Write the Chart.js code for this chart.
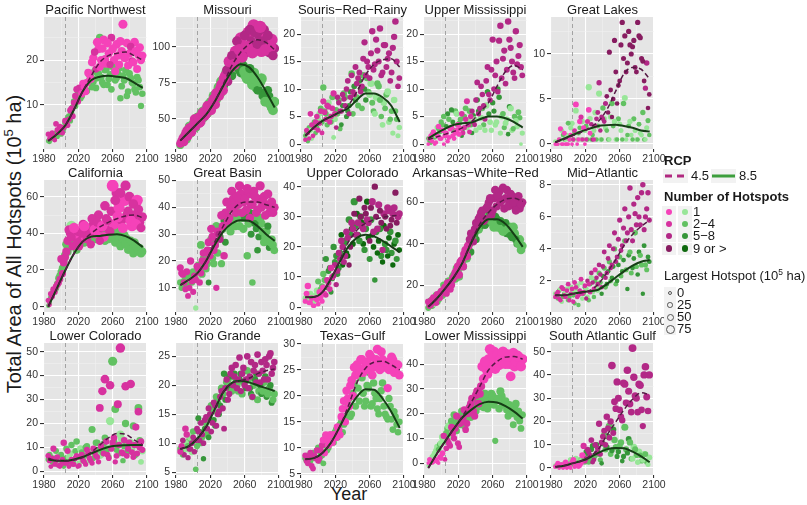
<!DOCTYPE html>
<html>
<head>
<meta charset="utf-8">
<title>Hotspots by region</title>
<script src="https://cdn.jsdelivr.net/npm/chart.js@4.4.1/dist/chart.umd.min.js"></script>
<style>
  body { margin: 0; background: #fff; font-family: "Liberation Sans", Arial, sans-serif; color: #1a1a1a; }
  #wrap { position: relative; width: 807px; height: 505px; overflow: hidden; }
  #wrap canvas { position: absolute; }
  .ttl { position: absolute; width: 163px; text-align: center; font-size: 13px; line-height: 15px; white-space: nowrap; z-index: 2; }
  .lg { position: absolute; font-size: 13px; line-height: 16px; white-space: nowrap; }
  .b { font-weight: bold; }
  .dot { position: absolute; border-radius: 50%; }
  .key { position: absolute; background: #f2f2f2; }
  sup { font-size: 65%; line-height: 0; vertical-align: super; }
</style>
</head>
<body>
<div id="wrap">
  <div style="position:absolute; left:14px; top:244px; transform:translate(-50%,-50%) rotate(-90deg); font-size:20px; white-space:nowrap;">Total Area of All Hotspots (10<sup>5</sup> ha)</div>
  <div style="position:absolute; left:349px; top:494px; transform:translate(-50%,-50%); font-size:18px;">Year</div>
</div>
<script>
// x values: two interleaved sets of years, and the x grid
const HIST_END = 2005;
const YEARS = [1985, 1988, 1991, 1994, 1997, 2000, 2003, 2006, 2009, 2012,
  2015, 2018, 2021, 2024, 2027, 2030, 2033, 2036, 2039, 2042,
  2045, 2048, 2051, 2054, 2057, 2060, 2063, 2066, 2069, 2072,
  2075, 2078, 2081, 2084, 2087, 2090, 2093];
const YEARS_B = [1986.5, 1989.5, 1992.5, 1995.5, 1998.5, 2001.5, 2004.5, 2007.5, 2010.5, 2013.5,
  2016.5, 2019.5, 2022.5, 2025.5, 2028.5, 2031.5, 2034.5, 2037.5, 2040.5, 2043.5,
  2046.5, 2049.5, 2052.5, 2055.5, 2058.5, 2061.5, 2064.5, 2067.5, 2070.5, 2073.5,
  2076.5, 2079.5, 2082.5, 2085.5, 2088.5, 2091.5, 2094.5];
const FIT_YEARS = [1985, 1995, 2005, 2015, 2025, 2035, 2045, 2055, 2065, 2075, 2085, 2095];
const X_TICKS = [1980, 2020, 2060, 2100];
const X_MINOR = [2000, 2040, 2080];
const COUNT_LABELS = ['1', '2−4', '5−8', '9 or >'];
const SIZE_LABELS = ['0', '25', '50', '75'];

const PINK = ['#f542b9', '#d7329f', '#b22886', '#871c60'];
const GREEN = ['#98e698', '#62c162', '#36963a', '#0e690e'];

// category strings: number-of-hotspots class (1..4) per point, spaces ignored
// Pacific Northwest
const pnw45 = [3.5, 2.8, 3.2, 5.8, 3.9, 4.5, 5.0, 6.2, 6.8, 9.2,
  10.5, 13.5, 13.8, 12.5, 14.1, 15.0, 16.8, 19.5, 21.8, 24.0,
  18.5, 22.6, 20.2, 23.8, 19.0, 22.5, 17.5, 21.0, 24.2, 28.0,
  20.5, 18.8, 23.0, 19.5, 22.0, 21.2, 20.0];
const pnw45b = [2.5, 3.8, 2.2, 4.5, 5.2, 3.8, 6.5, 5.5, 8.8, 7.5,
  12.0, 10.8, 13.2, 14.8, 13.0, 17.2, 15.8, 20.5, 18.0, 22.5,
  20.0, 24.5, 19.2, 21.5, 25.0, 20.0, 23.5, 19.0, 22.0, 20.5,
  23.8, 21.5, 19.8, 24.0, 18.0, 22.8, 21.0];
const pnw85 = [2.0, 3.0, 2.5, 3.8, 4.2, 3.5, 4.8, 5.5, 7.5, 8.0,
  10.8, 11.5, 13.0, 12.0, 14.5, 13.2, 15.5, 14.0, 17.5, 16.0,
  25.0, 15.0, 17.8, 14.5, 16.8, 18.5, 15.5, 17.0, 11.5, 16.5,
  17.8, 13.0, 16.0, 14.8, 12.8, 15.5, 9.8];
const pnw85b = [1.8, 2.5, 3.5, 3.0, 5.0, 4.2, 6.0, 7.0, 6.5, 9.5,
  9.8, 12.5, 11.5, 14.0, 13.0, 15.0, 16.8, 15.2, 13.8, 17.0,
  16.2, 14.5, 18.0, 15.8, 13.5, 17.2, 16.0, 18.2, 14.2, 15.5,
  12.0, 17.0, 15.0, 13.5, 16.2, 14.0, 12.5];
const pnwCat45 = '2222222222 2221111121 1111211111 1121111';
const pnwCat85 = '2222222222 2222222222 2222222222 2222222';
const pnwFit45 = [2, 3.5, 5.5, 9, 13, 16.5, 19.5, 21, 21.5, 21.8, 21, 20];
const pnwFit85 = [2, 3.5, 5.5, 9, 13, 15.5, 16.3, 16.5, 16.3, 16, 15, 13.8];
const pnwTicks = [10, 20];

// Missouri
const mo45 = [33, 37, 40, 38, 44, 46, 45, 51, 48, 55,
  53, 58, 56, 64, 68, 66, 74, 78, 84, 90,
  94, 88, 104, 98, 93, 108, 100, 112, 96, 110,
  102, 114, 104, 98, 108, 100, 94];
const mo45b = [35, 34, 42, 44, 41, 50, 48, 47, 54, 52,
  59, 57, 62, 60, 66, 71, 70, 80, 76, 86,
  92, 97, 95, 106, 100, 96, 110, 104, 115, 100,
  108, 97, 112, 106, 96, 105, 99];
const mo85 = [32, 36, 39, 42, 40, 47, 44, 50, 53, 51,
  57, 60, 62, 66, 64, 72, 76, 74, 82, 85,
  80, 90, 86, 84, 92, 83, 78, 85, 74, 78,
  70, 76, 66, 62, 70, 60, 56];
const mo85b = [34, 38, 36, 45, 43, 46, 51, 48, 55, 56,
  54, 61, 59, 64, 69, 68, 73, 79, 80, 88,
  84, 86, 93, 82, 87, 80, 84, 76, 82, 72,
  70, 78, 68, 64, 66, 58, 62];
const moCat45 = '2222222222 2222222232 3232232323 3232323';
const moCat85 = '2222222222 2222222322 3233322322 3232322';
const moFit45 = [35, 41, 47, 53, 62, 74, 87, 96, 102, 105, 103, 98];
const moFit85 = [35, 41, 47, 53, 62, 73, 83, 88, 86, 79, 69, 58];
const moTicks = [50, 75, 100];

// Souris-Red-Rainy
const sr45 = [0.8, 2.0, 5.5, 1.5, 4.0, 2.5, 6.0, 7.8, 4.5, 6.8,
  5.0, 9.2, 3.0, 7.5, 6.0, 8.2, 10.0, 5.5, 12.5, 9.0,
  11.0, 13.0, 10.5, 18.5, 15.0, 12.0, 20.5, 14.5, 17.0, 21.0,
  13.0, 18.0, 15.5, 11.5, 17.5, 22.3, 10.5];
const sr45b = [2.5, 1.0, 3.5, 3.0, 5.0, 3.8, 2.0, 5.8, 7.0, 4.0,
  6.5, 5.5, 8.5, 6.0, 9.0, 7.0, 11.5, 8.5, 9.5, 14.0,
  12.0, 9.5, 15.5, 12.5, 14.0, 16.5, 13.5, 19.0, 15.0, 12.5,
  18.0, 14.0, 16.5, 13.0, 19.5, 15.0, 12.0];
const sr85 = [1.5, 0.5, 2.5, 3.5, 2.0, 4.5, 6.5, 10.3, 5.5, 7.5,
  4.0, 1.2, 6.2, 8.0, 3.5, 9.2, 5.0, 7.0, 12.8, 10.5,
  8.5, 11.5, 6.5, 10.0, 12.0, 9.0, 7.5, 5.5, 11.0, 8.0,
  3.5, 6.5, 9.5, 4.5, 2.0, 6.0, 1.5];
const sr85b = [2.0, 3.0, 1.0, 4.0, 3.0, 5.5, 4.0, 6.0, 3.5, 5.0,
  8.5, 4.5, 5.5, 2.8, 7.0, 8.5, 6.0, 9.5, 5.5, 8.0,
  7.0, 10.0, 12.5, 8.0, 9.5, 11.0, 6.0, 8.5, 10.5, 5.0,
  7.5, 9.0, 4.0, 6.0, 8.0, 4.5, 3.0];
const srCat45 = '2222222222 2233333333 3333333333 3333333';
const srCat85 = '2212212221 2122323323 2323212122 1212121';
const srFit45 = [1.5, 3, 4.2, 5, 5.8, 7, 9.5, 12.5, 14.5, 15.3, 15.5, 14];
const srFit85 = [1.5, 3, 4.2, 5, 5.8, 6.5, 8, 9.2, 9.2, 8.5, 7, 4];
const srTicks = [0, 5, 10, 15, 20];

// Upper Mississippi
const um45 = [0.0, 1.5, 2.2, 0.3, 3.2, 1.0, 0.0, 2.0, 1.2, 3.0,
  1.0, 2.5, 1.8, 5.5, 3.0, 7.8, 2.2, 6.0, 3.5, 11.2,
  6.5, 9.0, 4.5, 14.0, 8.0, 19.0, 12.5, 9.5, 21.5, 15.5,
  11.0, 22.3, 17.5, 13.0, 20.5, 16.0, 14.0];
const um45b = [1.0, 0.5, 0.0, 1.5, 1.0, 2.5, 1.5, 0.5, 2.8, 1.5,
  2.0, 3.5, 2.8, 2.0, 4.5, 3.5, 5.0, 4.0, 8.0, 5.5,
  10.5, 7.0, 11.5, 9.0, 13.5, 10.0, 15.0, 18.8, 12.0, 17.0,
  13.5, 19.0, 15.0, 12.0, 14.5, 18.0, 12.5];
const um85 = [1.0, 0.2, 2.0, 1.5, 2.8, 4.0, 5.0, 3.2, 4.5, 6.2,
  2.5, 5.5, 3.8, 1.5, 5.0, 3.0, 6.0, 2.0, 4.5, 8.0,
  3.0, 6.5, 2.5, 9.5, 4.0, 7.5, 3.5, 10.0, 2.0, 5.5,
  3.8, 1.8, 6.5, 2.8, 4.2, 5.8, 0.0];
const um85b = [0.5, 1.8, 1.2, 3.0, 2.2, 3.5, 2.0, 5.5, 3.0, 4.0,
  6.0, 3.5, 4.5, 2.8, 6.5, 4.2, 3.5, 5.2, 2.5, 6.0,
  4.8, 3.5, 7.0, 5.5, 2.5, 6.0, 4.0, 8.5, 5.0, 3.0,
  4.5, 6.8, 2.5, 5.0, 3.2, 4.8, 2.0];
const umCat45 = '1111111111 1112222333 3333333333 3333333';
const umCat85 = '2221222323 2123212313 1213131312 1312121';
const umFit45 = [0.8, 1.3, 1.8, 2.3, 3.0, 4.0, 5.8, 7.5, 10.5, 13.2, 14.3, 13.5];
const umFit85 = [1.0, 2.0, 2.8, 3.5, 3.8, 3.9, 4.5, 5.0, 5.0, 4.7, 4.0, 3.0];
const umTicks = [0, 5, 10, 15, 20];

// Great Lakes
const gl45 = [0.0, 0.0, 1.7, 0.0, 0.0, 0.0, 1.0, 0.5, 4.4, 0.5,
  3.0, 1.8, 0.5, 3.8, 2.2, 0.5, 2.8, 6.8, 3.0, 2.5,
  5.3, 10.2, 3.0, 11.5, 4.5, 7.0, 13.5, 12.0, 9.0, 11.0,
  10.8, 8.5, 13.5, 11.8, 9.2, 6.2, 4.0];
const gl45b = [0.0, 0.5, 0.0, 1.2, 0.0, 0.5, 0.0, 1.5, 0.0, 2.5,
  0.5, 0.0, 2.5, 1.2, 0.5, 2.0, 3.5, 1.5, 2.8, 4.5,
  3.5, 6.0, 5.0, 8.0, 6.5, 11.0, 9.5, 8.0, 12.5, 10.0,
  11.5, 8.0, 12.0, 9.5, 7.0, 9.0, 5.5];
const gl85 = [0.3, 0.0, 0.5, 1.0, 0.5, 2.3, 1.8, 0.5, 3.7, 1.2,
  0.5, 0.5, 2.0, 6.3, 0.5, 1.5, 0.5, 5.6, 0.5, 2.8,
  1.5, 0.5, 4.5, 2.5, 0.5, 2.2, 0.5, 5.1, 1.0, 2.5,
  0.5, 1.5, 0.5, 1.2, 3.5, 0.5, 2.6];
const gl85b = [0.0, 0.5, 1.5, 0.5, 1.0, 0.5, 2.3, 1.2, 0.5, 1.8,
  2.5, 1.5, 0.5, 2.8, 1.0, 3.5, 2.0, 0.5, 4.0, 1.8,
  0.5, 3.0, 2.0, 0.5, 2.8, 1.5, 4.5, 0.5, 2.0, 1.0,
  2.8, 0.5, 2.2, 1.0, 0.5, 1.8, 1.0];
const glCat45 = '1111111211 2121323333 4444444444 4444434';
const glCat85 = '1112121212 1121212121 2121212121 2121212';
const glFit45 = [0.2, 0.5, 0.9, 1.3, 1.8, 2.5, 3.8, 5.8, 7.8, 8.5, 8.3, 7.2];
const glFit85 = [0.2, 0.6, 1.0, 1.4, 1.7, 2.0, 2.1, 2.15, 2.0, 1.8, 1.5, 1.4];
const glTicks = [0, 5, 10];

// California
const ca45 = [3.5, 7.0, 9.5, 11.0, 13.0, 26.0, 24.0, 30.0, 42.0, 38.0,
  43.0, 35.0, 33.0, 40.0, 44.0, 37.0, 39.5, 48.0, 42.0, 46.0,
  36.0, 44.0, 55.0, 47.0, 41.0, 66.0, 58.0, 49.0, 62.0, 43.0,
  66.0, 52.0, 47.0, 56.0, 45.0, 53.0, 43.0];
const ca45b = [1.0, 5.5, 8.0, 12.0, 15.0, 18.0, 27.0, 36.0, 40.0, 33.0,
  38.0, 41.0, 36.0, 45.0, 38.0, 41.0, 34.0, 45.0, 40.0, 50.0,
  43.0, 38.0, 48.0, 42.0, 52.0, 45.0, 62.0, 54.0, 47.0, 58.0,
  50.0, 60.0, 44.0, 50.0, 58.0, 46.0, 49.0];
const ca85 = [0.5, 5.0, 8.5, 10.0, 15.5, 19.0, 25.0, 34.0, 36.0, 44.0,
  35.0, 31.0, 38.0, 40.0, 35.0, 42.0, 37.0, 39.0, 47.0, 41.0,
  38.0, 44.0, 36.0, 40.0, 42.0, 38.0, 35.0, 39.0, 33.0, 37.0,
  34.0, 31.0, 36.0, 29.0, 33.0, 30.0, 29.0];
const ca85b = [2.0, 6.5, 9.0, 12.5, 17.0, 21.0, 28.0, 30.0, 33.0, 37.0,
  40.0, 36.0, 35.0, 41.0, 38.0, 36.0, 43.0, 40.0, 37.0, 44.0,
  39.0, 42.0, 40.0, 37.0, 41.0, 43.0, 38.0, 41.0, 36.0, 39.0,
  37.0, 35.0, 33.0, 35.0, 31.0, 32.0, 30.0];
const caCat45 = '2222222222 1222122212 2122212121 2212122';
const caCat85 = '2222222221 2222222222 2222222222 2222222';
const caFit45 = [0, 10, 20, 29, 35.5, 40, 43.5, 46, 48, 49.5, 50, 48.5];
const caFit85 = [0, 10, 20, 29, 35.5, 38.2, 38.6, 39.2, 39.5, 38.5, 36, 32.5];
const caTicks = [0, 20, 40, 60];

// Great Basin
const gb45 = [17.5, 15.0, 9.5, 7.0, 20.0, 8.5, 13.0, 17.0, 15.5, 23.0,
  20.0, 27.0, 32.0, 24.0, 10.0, 30.0, 37.0, 22.0, 42.0, 36.0,
  46.0, 40.0, 44.0, 48.0, 38.0, 43.0, 47.0, 36.0, 41.0, 44.0,
  39.0, 48.0, 42.0, 37.0, 45.0, 40.0, 38.0];
const gb45b = [15.5, 12.0, 16.0, 10.0, 12.5, 14.5, 18.0, 12.0, 20.0, 18.0,
  24.0, 22.0, 29.0, 26.0, 31.0, 28.0, 33.0, 38.0, 35.0, 40.0,
  43.0, 38.0, 41.0, 45.0, 42.0, 39.0, 45.0, 41.0, 46.0, 38.0,
  43.0, 40.0, 44.0, 41.0, 38.0, 42.0, 40.0];
const gb85 = [12.0, 10.5, 14.0, 11.0, 13.5, 16.0, 2.5, 18.5, 26.0, 21.0,
  17.0, 12.0, 28.0, 19.0, 33.0, 30.0, 19.0, 35.0, 38.0, 33.0,
  40.0, 42.0, 37.0, 33.0, 43.0, 36.0, 22.0, 38.0, 12.0, 34.0,
  24.0, 36.0, 31.0, 29.0, 33.0, 27.0, 26.0];
const gb85b = [10.0, 12.5, 11.0, 14.5, 12.0, 15.5, 14.0, 17.0, 15.0, 22.0,
  19.0, 24.0, 21.0, 26.0, 23.0, 29.0, 32.0, 27.0, 34.0, 31.0,
  36.0, 33.0, 38.0, 36.0, 32.0, 37.0, 34.0, 30.0, 36.0, 32.0,
  29.0, 34.0, 27.0, 31.0, 25.0, 28.0, 24.0];
const gbCat45 = '2222222222 2222232222 2222222222 2222222';
const gbCat85 = '2222221222 2322232322 2222232323 3222322';
const gbFit45 = [11, 13, 15.5, 20, 27, 33, 38.5, 41.5, 42, 42, 41, 40];
const gbFit85 = [11, 13, 15.5, 20, 26, 31, 34, 35.2, 35, 33, 30, 27.5];
const gbTicks = [10, 20, 30, 40, 50];

// Upper Colorado
const uc45 = [2.0, 7.0, 1.5, 0.5, 3.0, 1.0, 3.5, 6.5, 4.0, 8.0,
  13.0, 10.5, 7.5, 18.0, 22.0, 15.0, 25.0, 14.0, 28.0, 31.0,
  24.0, 36.0, 27.0, 33.0, 29.0, 22.0, 35.0, 40.0, 26.0, 32.0,
  19.0, 30.0, 33.0, 27.0, 31.0, 38.0, 30.0];
const uc45b = [4.5, 1.5, 3.0, 0.5, 2.5, 5.0, 2.0, 4.5, 9.0, 6.0,
  10.0, 14.0, 12.0, 16.0, 20.0, 17.0, 23.0, 20.0, 26.0, 24.0,
  28.0, 30.0, 26.0, 31.0, 28.0, 33.0, 25.0, 30.0, 34.0, 28.0,
  31.0, 26.0, 32.0, 29.0, 33.0, 28.0, 31.0];
const uc85 = [3.0, 2.5, 4.5, 1.0, 4.0, 8.5, 6.0, 11.0, 16.0, 12.0,
  5.0, 20.0, 17.0, 13.0, 24.0, 21.0, 18.0, 29.0, 26.0, 35.0,
  31.0, 22.0, 28.0, 19.0, 35.0, 16.0, 24.0, 9.0, 18.0, 26.0,
  15.0, 21.0, 17.0, 25.0, 14.0, 22.0, 24.0];
const uc85b = [2.0, 4.0, 3.5, 2.0, 5.5, 3.0, 7.0, 9.0, 6.5, 13.0,
  9.5, 15.0, 11.0, 18.0, 14.0, 22.0, 17.0, 24.0, 21.0, 27.0,
  24.0, 30.0, 21.0, 26.0, 23.0, 29.0, 20.0, 25.0, 22.0, 17.0,
  27.0, 19.0, 23.0, 18.0, 21.0, 16.0, 19.0];
const ucCat45 = '1111111122 2333333434 3434343434 3434343';
const ucCat85 = '1111122233 3333434343 4343434343 4343434';
const ucFit45 = [3.3, 3.4, 5, 9.5, 15.5, 21.5, 25.5, 27.8, 29, 29.8, 30.2, 30.5];
const ucFit85 = [3.3, 3.4, 5, 9.5, 15, 20, 23, 24, 23.5, 22, 20.2, 18.2];
const ucTicks = [0, 10, 20, 30, 40];

// Arkansas-White-Red
const ar45 = [12, 10.5, 14, 11.5, 15, 17, 18, 16, 21, 20,
  24, 27, 25, 32, 35, 34, 42, 44, 47, 49,
  53, 56, 52, 58, 62, 56, 66, 63, 60, 67,
  62, 58, 64, 60, 56, 63, 59];
const ar45b = [10, 13, 12, 15.5, 14, 16.5, 19, 21, 18, 23,
  26, 29, 31, 29, 37, 39, 45, 41, 50, 52,
  55, 51, 57, 60, 54, 62, 58, 65, 61, 57,
  66, 60, 63, 58, 61, 57, 60];
const ar85 = [9, 12.5, 11, 15, 13, 16.5, 20, 18, 22, 21,
  25, 28, 24, 31, 34, 33, 40, 43, 45, 48,
  50, 53, 49, 52, 55, 50, 53, 48, 51, 46,
  50, 47, 44, 48, 42, 40, 37];
const ar85b = [11, 10, 13.5, 12, 16, 15, 18.5, 21, 20, 24,
  23, 27, 30, 29, 33, 37, 36, 44, 42, 47,
  49, 52, 50, 54, 51, 48, 52, 50, 47, 49,
  45, 48, 43, 45, 40, 42, 39];
const arCat45 = '2222222222 2222223333 3333333333 3333333';
const arCat85 = '2212222222 2222223232 3232323232 3232322';
const arFit45 = [9.5, 13.5, 18.5, 24, 31, 41, 49.5, 55, 59, 61.5, 62, 60.5];
const arFit85 = [9.5, 13.5, 18.5, 24, 31, 40.5, 48, 51.8, 51.8, 49.5, 44.5, 38.5];
const arTicks = [20, 40, 60];

// Mid-Atlantic
const ma45 = [1.0, 1.3, 0.8, 1.5, 1.0, 1.8, 1.2, 0.7, 1.6, 1.1,
  2.1, 1.3, 0.9, 1.8, 2.5, 1.5, 2.2, 3.0, 1.6, 3.8,
  2.5, 4.2, 3.0, 5.0, 3.5, 5.8, 4.2, 6.5, 5.0, 7.8,
  4.5, 6.2, 7.2, 5.5, 8.0, 6.0, 7.5];
const ma45b = [1.2, 0.9, 1.6, 1.1, 1.4, 0.8, 1.5, 1.9, 1.0, 1.4,
  1.2, 1.7, 2.0, 1.3, 1.9, 2.7, 1.8, 2.4, 2.9, 2.2,
  3.4, 2.8, 4.0, 3.2, 4.6, 3.9, 5.3, 4.5, 6.0, 5.2,
  6.8, 5.5, 6.0, 7.5, 5.2, 6.5, 5.8];
const ma85 = [1.2, 0.9, 1.5, 1.0, 1.3, 0.8, 1.6, 1.1, 1.4, 0.5,
  1.9, 1.2, 1.5, 0.8, 2.2, 1.0, 1.6, 2.5, 1.2, 2.8,
  1.8, 3.2, 2.2, 4.0, 2.0, 3.5, 2.6, 4.5, 1.5, 3.8,
  2.8, 5.0, 2.4, 3.6, 1.2, 3.0, 3.5];
const ma85b = [1.0, 1.4, 0.7, 1.2, 1.5, 1.0, 1.3, 0.6, 1.7, 1.2,
  0.9, 1.6, 1.0, 1.8, 1.3, 2.0, 1.4, 1.9, 2.3, 1.6,
  2.6, 2.0, 2.9, 1.8, 3.0, 2.3, 3.3, 2.7, 3.6, 2.5,
  3.4, 2.9, 3.8, 3.0, 4.2, 2.7, 3.2];
const maCat45 = '2222222222 2232323333 3333333333 3333333';
const maCat85 = '1212121212 1212121232 3232323232 3232323';
const maFit45 = [1.1, 1.1, 1.2, 1.25, 1.4, 1.8, 2.5, 3.3, 4.2, 4.9, 5.4, 5.8];
const maFit85 = [1.1, 1.1, 1.2, 1.3, 1.35, 1.45, 1.8, 2.2, 2.6, 2.95, 3.2, 3.3];
const maTicks = [2, 4, 6, 8];

// Lower Colorado
const lc45 = [6.5, 2.0, 9.5, 4.5, 2.5, 3.0, 12.0, 3.5, 2.0, 5.0,
  3.0, 6.5, 2.5, 7.0, 4.0, 9.0, 5.5, 3.5, 8.0, 6.0,
  26.5, 33.5, 38.5, 7.0, 36.0, 12.0, 4.0, 28.0, 51.5, 7.5,
  35.5, 9.5, 36.5, 6.0, 18.5, 25.0, 12.5];
const lc45b = [4.5, 5.5, 3.0, 6.0, 2.0, 5.0, 3.5, 8.5, 4.0, 3.0,
  5.5, 2.0, 6.0, 4.5, 3.0, 7.5, 4.5, 9.5, 6.5, 4.0,
  10.5, 7.5, 12.5, 5.5, 9.5, 14.0, 6.5, 11.0, 8.0, 13.0,
  6.5, 12.0, 8.0, 11.0, 7.5, 10.0, 9.0];
const lc85 = [5.0, 6.0, 3.5, 8.5, 4.0, 7.0, 2.0, 9.5, 6.0, 11.0,
  5.0, 12.5, 3.5, 8.0, 6.5, 10.5, 4.5, 17.5, 7.5, 12.0,
  6.5, 8.0, 14.0, 9.5, 21.0, 46.0, 26.0, 11.0, 15.5, 4.5,
  20.0, 8.5, 12.0, 19.0, 7.0, 26.5, 4.0];
const lc85b = [7.0, 4.0, 5.5, 3.0, 6.5, 4.5, 5.5, 3.5, 7.5, 4.0,
  8.5, 6.0, 9.5, 5.0, 10.0, 6.5, 8.0, 5.5, 12.0, 9.0,
  7.0, 11.5, 8.5, 6.0, 10.0, 12.5, 9.0, 7.5, 13.5, 10.5,
  8.0, 12.0, 9.5, 6.5, 11.0, 13.0, 8.5];
const lcCat45 = '2222222222 2222222222 2222222222 2222222';
const lcCat85 = '2222122212 2212221222 1222122212 2212221';
const lcFit45 = [5.5, 4.5, 4.3, 4.8, 5.8, 8, 11, 14, 15.8, 15.5, 13.2, 11];
const lcFit85 = [5.0, 4.5, 4.5, 5.0, 6.0, 7.5, 9.0, 10.2, 10.7, 10.9, 11, 11];
const lcTicks = [0, 10, 20, 30, 40, 50];

// Rio Grande
const rg45 = [8.5, 10.5, 12.5, 7.5, 9.0, 11.0, 10.5, 12.0, 13.5, 10.0,
  14.5, 16.0, 12.0, 17.0, 13.0, 15.5, 19.0, 12.5, 21.0, 18.5,
  23.0, 21.5, 19.5, 24.8, 22.0, 20.0, 25.0, 21.5, 18.0, 23.5,
  25.3, 20.5, 22.5, 24.5, 21.0, 25.5, 23.0];
const rg45b = [9.5, 8.0, 11.5, 9.0, 10.0, 8.5, 12.5, 10.5, 11.5, 14.0,
  12.5, 15.0, 13.5, 16.5, 15.0, 18.0, 16.0, 19.5, 17.5, 22.0,
  20.0, 23.5, 21.0, 19.0, 23.0, 21.0, 19.5, 24.0, 22.5, 20.5,
  22.0, 24.0, 21.0, 23.5, 25.0, 22.0, 24.0];
const rg85 = [9.0, 8.0, 10.0, 9.5, 11.0, 12.0, 5.5, 14.3, 10.0, 7.3,
  13.5, 11.0, 16.5, 14.0, 18.0, 15.0, 19.5, 22.0, 20.5, 21.5,
  19.0, 22.0, 20.0, 21.0, 18.5, 20.5, 22.5, 19.5, 18.0, 21.0,
  17.5, 20.0, 19.0, 21.5, 18.5, 20.0, 17.5];
const rg85b = [8.5, 9.5, 9.0, 10.5, 8.5, 10.5, 9.5, 12.0, 11.0, 12.5,
  11.5, 14.0, 15.5, 13.0, 17.0, 16.5, 18.5, 17.5, 21.0, 19.5,
  21.5, 20.5, 19.0, 22.0, 20.5, 19.5, 21.0, 18.5, 20.0, 22.0,
  19.0, 18.5, 20.5, 18.0, 19.5, 17.0, 18.5];
const rgCat45 = '2323333333 3333333333 3333333333 3333333';
const rgCat85 = '2212122323 2323232323 2323232323 2323232';
const rgFit45 = [9, 9.5, 10.8, 12.8, 15.8, 18.8, 20.4, 20.8, 21.2, 22, 22.5, 22.8];
const rgFit85 = [9, 9.5, 10.8, 12.8, 15.8, 18.8, 20.4, 20.8, 20.5, 20.0, 19.5, 19.0];
const rgTicks = [5, 10, 15, 20, 25];

// Texas-Gulf
const tx45 = [8.5, 7.0, 9.0, 6.0, 8.0, 7.5, 9.5, 11.5, 12.5, 10.5,
  12.5, 12.5, 12.0, 13.5, 16.0, 19.0, 21.0, 18.0, 23.0, 25.5,
  26.0, 24.5, 27.0, 25.5, 26.5, 28.0, 24.0, 26.0, 29.0, 25.0,
  27.0, 26.5, 21.5, 26.0, 27.0, 25.0, 26.0];
const tx45b = [7.5, 8.0, 6.5, 8.5, 9.5, 8.0, 10.5, 9.0, 11.5, 12.5,
  11.0, 12.5, 14.0, 12.5, 17.5, 15.0, 19.5, 22.0, 20.0, 24.0,
  25.0, 27.0, 24.5, 26.5, 25.0, 27.5, 25.5, 27.0, 26.0, 28.5,
  25.5, 26.5, 25.0, 27.5, 24.5, 26.0, 24.0];
const tx85 = [8.0, 8.5, 7.5, 9.0, 8.0, 10.0, 9.0, 7.0, 11.5, 10.0,
  12.5, 11.0, 13.5, 12.5, 15.0, 14.5, 17.5, 19.5, 16.5, 22.5,
  25.0, 19.0, 23.5, 18.0, 22.0, 24.5, 18.5, 20.5, 17.5, 19.5,
  22.5, 16.5, 15.5, 18.0, 13.5, 16.0, 13.0];
const tx85b = [7.5, 7.0, 8.5, 8.0, 9.5, 7.5, 8.5, 10.5, 9.5, 12.0,
  11.5, 13.0, 12.0, 14.5, 13.0, 16.0, 18.5, 16.0, 20.5, 18.0,
  21.5, 24.0, 20.5, 19.0, 21.5, 18.0, 22.5, 19.5, 16.5, 21.0,
  18.0, 16.0, 19.5, 15.5, 17.0, 14.5, 15.0];
const txCat45 = '2222222111 1111111111 1111111111 1111111';
const txCat85 = '2222222222 2222222222 2222222222 2222222';
const txFit45 = [7.8, 8.0, 9.0, 11.0, 14.0, 18.0, 22.5, 25.3, 26.5, 26.7, 26.0, 25.0];
const txFit85 = [7.8, 8.0, 9.0, 11.0, 14.0, 17.2, 19.8, 21.3, 21.2, 19.5, 17.0, 13.8];
const txTicks = [5, 10, 15, 20, 25, 30];

// Lower Mississippi
const lm45 = [0.0, 1.0, 0.5, 1.5, 0.0, 2.0, 11.0, 6.0, 8.0, 14.5,
  10.0, 19.0, 6.5, 17.0, 21.5, 16.0, 22.5, 26.0, 19.0, 29.0,
  28.0, 39.0, 41.0, 36.0, 46.0, 43.0, 38.0, 44.0, 42.0, 45.0,
  40.0, 43.0, 35.0, 44.5, 41.0, 43.0, 39.0];
const lm45b = [1.5, 0.0, 1.0, 0.5, 2.5, 4.0, 1.5, 9.0, 7.0, 12.0,
  14.0, 8.0, 16.0, 18.0, 13.5, 20.0, 24.0, 21.0, 27.5, 24.0,
  31.0, 34.0, 38.0, 42.0, 40.0, 45.0, 41.0, 39.5, 44.0, 41.5,
  44.0, 40.0, 42.0, 39.0, 43.5, 40.5, 42.0];
const lm85 = [-1.0, 1.0, 3.0, 5.0, 5.5, 8.0, 10.0, 12.0, 15.0, 17.0,
  19.5, 13.0, 17.0, 21.0, 15.0, 19.0, 22.0, 20.0, 24.5, 27.0,
  23.0, 26.0, 28.0, 22.0, 25.0, 27.0, 9.0, 26.0, 29.0, 23.5,
  25.0, 19.0, 22.5, 15.5, 24.0, 21.0, 14.0];
const lm85b = [0.0, 2.5, 4.0, 6.5, 7.5, 10.5, 9.0, 14.0, 11.0, 13.5,
  16.0, 18.0, 15.5, 19.0, 17.5, 21.5, 18.5, 23.0, 21.0, 25.5,
  24.0, 22.5, 26.5, 24.0, 28.0, 23.5, 25.5, 22.0, 27.0, 24.5,
  21.5, 23.5, 20.0, 22.0, 18.5, 17.0, 19.5];
const lmCat45 = '1111112222 2222222222 2111111111 1111111';
const lmCat85 = '1111211212 2222222222 2222222222 2222222';
const lmFit45 = [-2, 3.8, 9, 14, 19, 24.5, 31, 37.5, 41, 42.8, 43, 42];
const lmFit85 = [-2, 3.8, 9, 14, 18.5, 21.5, 23.8, 24.8, 24.5, 23, 20.8, 18];
const lmTicks = [0, 10, 20, 30, 40];

// South Atlantic Gulf
const sa45 = [0.5, 2.0, 1.0, 0.0, 2.5, 0.5, 0.0, 3.5, 1.0, 0.5,
  2.0, 9.5, 4.0, 7.0, 12.0, 3.5, 6.5, 19.0, 11.0, 16.0,
  22.0, 13.0, 44.0, 28.5, 37.0, 25.0, 20.5, 36.0, 42.0, 27.5,
  51.5, 31.0, 24.0, 35.5, 18.0, 43.5, 24.5];
const sa45b = [1.0, 0.0, 1.5, 0.5, 0.0, 1.5, 2.5, 0.5, 2.0, 1.0,
  5.5, 3.0, 8.0, 5.5, 2.5, 10.0, 8.5, 6.0, 13.5, 10.0,
  17.0, 20.0, 15.0, 25.5, 30.0, 22.0, 36.5, 28.0, 33.0, 24.0,
  39.0, 30.0, 36.0, 25.0, 40.0, 30.5, 40.0];
const sa85 = [1.0, 0.5, 1.5, 0.5, 1.0, 2.0, 3.5, 1.5, 4.0, 2.5,
  3.0, 5.0, 7.0, 2.5, 8.0, 4.5, 10.0, 6.0, 2.0, 14.0,
  9.0, 18.0, 7.5, 12.0, 5.0, 9.5, 3.0, 17.5, 6.5, 11.0,
  4.0, 8.0, 2.5, 5.5, 3.5, 6.0, 1.5];
const sa85b = [0.5, 1.0, 0.5, 2.0, 1.5, 1.0, 2.5, 3.0, 2.0, 3.5,
  4.0, 2.5, 6.0, 4.0, 9.5, 5.5, 7.0, 3.5, 10.5, 8.0,
  13.5, 6.0, 16.5, 9.0, 7.0, 11.0, 5.0, 8.0, 12.5, 4.0,
  9.0, 5.5, 7.0, 3.0, 6.0, 2.5, 4.5];
const saCat45 = '1111111111 1233333333 3333333333 3333333';
const saCat85 = '1111121212 1232323232 3232323232 1212121';
const saFit45 = [0.5, 1, 2, 3, 5, 8, 14, 19.5, 25, 29.5, 32.3, 31.5];
const saFit85 = [0.5, 1, 2, 3, 4.5, 6.5, 8, 8.6, 8.5, 7, 5, 2.5];
const saTicks = [0, 10, 20, 30, 40, 50];

const panels = [
  { title: 'Pacific Northwest', a45: pnw45, b45: pnw45b, a85: pnw85, b85: pnw85b, c45: pnwCat45, c85: pnwCat85, f45: pnwFit45, f85: pnwFit85, ticks: pnwTicks, min: 0.2, max: 29.6 },
  { title: 'Missouri', a45: mo45, b45: mo45b, a85: mo85, b85: mo85b, c45: moCat45, c85: moCat85, f45: moFit45, f85: moFit85, ticks: moTicks, min: 29.2, max: 120.8 },
  { title: 'Souris−Red−Rainy', a45: sr45, b45: sr45b, a85: sr85, b85: sr85b, c45: srCat45, c85: srCat85, f45: srFit45, f85: srFit85, ticks: srTicks, min: -0.9, max: 23.1 },
  { title: 'Upper Mississippi', a45: um45, b45: um45b, a85: um85, b85: um85b, c45: umCat45, c85: umCat85, f45: umFit45, f85: umFit85, ticks: umTicks, min: -0.9, max: 23.1 },
  { title: 'Great Lakes', a45: gl45, b45: gl45b, a85: gl85, b85: gl85b, c45: glCat45, c85: glCat85, f45: glFit45, f85: glFit85, ticks: glTicks, min: -0.55, max: 14.1 },
  { title: 'California', a45: ca45, b45: ca45b, a85: ca85, b85: ca85b, c45: caCat45, c85: caCat85, f45: caFit45, f85: caFit85, ticks: caTicks, min: -2.9, max: 69.1 },
  { title: 'Great Basin', a45: gb45, b45: gb45b, a85: gb85, b85: gb85b, c45: gbCat45, c85: gbCat85, f45: gbFit45, f85: gbFit85, ticks: gbTicks, min: 1, max: 50.2 },
  { title: 'Upper Colorado', a45: uc45, b45: uc45b, a85: uc85, b85: uc85b, c45: ucCat45, c85: ucCat85, f45: ucFit45, f85: ucFit85, ticks: ucTicks, min: -1.6, max: 42.2 },
  { title: 'Arkansas−White−Red', a45: ar45, b45: ar45b, a85: ar85, b85: ar85b, c45: arCat45, c85: arCat85, f45: arFit45, f85: arFit85, ticks: arTicks, min: 7, max: 70.8 },
  { title: 'Mid−Atlantic', a45: ma45, b45: ma45b, a85: ma85, b85: ma85b, c45: maCat45, c85: maCat85, f45: maFit45, f85: maFit85, ticks: maTicks, min: 0.06, max: 8.3 },
  { title: 'Lower Colorado', a45: lc45, b45: lc45b, a85: lc85, b85: lc85b, c45: lcCat45, c85: lcCat85, f45: lcFit45, f85: lcFit85, ticks: lcTicks, min: -1.5, max: 53.6 },
  { title: 'Rio Grande', a45: rg45, b45: rg45b, a85: rg85, b85: rg85b, c45: rgCat45, c85: rgCat85, f45: rgFit45, f85: rgFit85, ticks: rgTicks, min: 4.5, max: 27.3 },
  { title: 'Texas−Gulf', a45: tx45, b45: tx45b, a85: tx85, b85: tx85b, c45: txCat45, c85: txCat85, f45: txFit45, f85: txFit85, ticks: txTicks, min: 4.75, max: 30.2 },
  { title: 'Lower Mississippi', a45: lm45, b45: lm45b, a85: lm85, b85: lm85b, c45: lmCat45, c85: lmCat85, f45: lmFit45, f85: lmFit85, ticks: lmTicks, min: -4.8, max: 48.5 },
  { title: 'South Atlantic Gulf', a45: sa45, b45: sa45b, a85: sa85, b85: sa85b, c45: saCat45, c85: saCat85, f45: saFit45, f85: saFit85, ticks: saTicks, min: -3, max: 53.7 },
];

Chart.defaults.font.family = '"Liberation Sans", Arial, sans-serif';

// panel boxes (gray areas) in page pixels
const COLS = [44, 176, 301, 424, 551], ROWS = [17, 180, 343];
const PW = 103, PH = 132, AXW = 40, AXH = 22, PADT = 8, PADR = 14;

const DIV = [1, 1.6, 3, 6];
const cats = s => s.replace(/\s/g, '').split('').map(Number);
const rad = (v, c) => 1.9 + 0.5 * Math.sqrt(Math.max(v, 0) / DIV[(c || 1) - 1]);
const near = (list, v) => list.some(t => Math.abs(t - v) < 1e-6);

function minorTicks(ticks, min, max) {
  const step = ticks[1] - ticks[0], out = [];
  for (let v = ticks[0] - step / 2; v <= max; v += step) if (v >= min) out.push(v);
  for (let v = ticks[0] - step * 1.5; v >= min; v -= step) out.push(v);
  return out;
}

function gridOpts(major, tl) {
  return {
    color: c => near(major, c.tick.value) ? '#ffffff' : '#f3f3f3',
    lineWidth: c => near(major, c.tick.value) ? 1.1 : 0.55,
    tickColor: c => near(major, c.tick.value) ? '#333333' : 'rgba(0,0,0,0)',
    tickLength: tl,
  };
}

const panelBg = {
  id: 'panelBg',
  beforeDraw(chart) {
    const { ctx, chartArea: a } = chart;
    ctx.save();
    ctx.fillStyle = '#e5e5e5';
    ctx.fillRect(a.left, a.top, a.width, a.height);
    ctx.restore();
  },
  beforeDatasetsDraw(chart) {
    const { ctx, chartArea: a, scales: { x } } = chart;
    const px = Math.round(x.getPixelForValue(HIST_END)) + 0.5;
    ctx.save();
    ctx.strokeStyle = '#a3a3a3';
    ctx.lineWidth = 1;
    ctx.setLineDash([4, 3]);
    ctx.beginPath();
    ctx.moveTo(px, a.top);
    ctx.lineTo(px, a.bottom);
    ctx.stroke();
    ctx.restore();
  }
};

function pointSet(years, vals, cls, colors) {
  return {
    data: years.map((x, k) => ({ x, y: vals[k] })),
    pointBackgroundColor: c => colors[(cls[c.dataIndex] || 1) - 1],
    pointRadius: c => rad(vals[c.dataIndex], cls[c.dataIndex]),
    pointBorderWidth: 0,
  };
}

const wrap = document.getElementById('wrap');

panels.forEach((p, i) => {
  const gx = COLS[i % 5], gy = ROWS[Math.floor(i / 5)];
  const c45 = cats(p.c45), c85 = cats(p.c85);
  const yGrid = p.ticks.concat(minorTicks(p.ticks, p.min, p.max));
  const xGrid = X_TICKS.concat(X_MINOR);

  const cv = document.createElement('canvas');
  cv.width = AXW + PW + PADR;
  cv.height = PADT + PH + AXH;
  cv.style.left = (gx - AXW) + 'px';
  cv.style.top = (gy - PADT) + 'px';
  wrap.appendChild(cv);

  const t = document.createElement('div');
  t.className = 'ttl';
  t.textContent = p.title;
  t.style.left = (gx + PW / 2 - 81.5) + 'px';
  t.style.top = (gy - 15) + 'px';
  wrap.appendChild(t);

  new Chart(cv, {
    type: 'scatter',
    data: {
      datasets: [
        { data: FIT_YEARS.map((x, k) => ({ x, y: p.f45[k] })), showLine: true, pointRadius: 0,
          borderColor: '#561a45', borderWidth: 1.5, borderDash: [5, 3], cubicInterpolationMode: 'monotone' },
        { data: FIT_YEARS.map((x, k) => ({ x, y: p.f85[k] })), showLine: true, pointRadius: 0,
          borderColor: '#163e16', borderWidth: 2, cubicInterpolationMode: 'monotone' },
        pointSet(YEARS, p.a45, c45, PINK),
        pointSet(YEARS_B, p.b45, c45, PINK),
        pointSet(YEARS, p.a85, c85, GREEN),
        pointSet(YEARS_B, p.b85, c85, GREEN),
      ]
    },
    options: {
      responsive: false, animation: false, events: [],
      layout: { padding: { top: PADT, right: PADR, left: 0, bottom: 0 } },
      plugins: { legend: { display: false }, tooltip: { enabled: false } },
      scales: {
        x: {
          type: 'linear', min: 1980, max: 2100, bounds: 'data',
          afterBuildTicks: s => { s.ticks = xGrid.map(v => ({ value: v })); },
          afterFit: s => { s.height = AXH; s.paddingLeft = 0; s.paddingRight = 0; },
          grid: gridOpts(X_TICKS, 3),
          border: { display: false },
          ticks: { autoSkip: false, maxRotation: 0, padding: 1, color: '#333', font: { size: 10.5 },
            callback: v => near(X_TICKS, v) ? String(v) : '' }
        },
        y: {
          type: 'linear', min: p.min, max: p.max, bounds: 'data',
          afterBuildTicks: s => { s.ticks = yGrid.map(v => ({ value: v })); },
          afterFit: s => { s.width = AXW; s.paddingTop = 0; s.paddingBottom = 0; },
          grid: gridOpts(p.ticks, 4),
          border: { display: false },
          ticks: { autoSkip: false, padding: 2, color: '#333', font: { size: 10.5 },
            callback: v => near(p.ticks, v) ? String(v) : '' }
        }
      }
    },
    plugins: [panelBg]
  });
});

// legend (HTML)
function add(html, cls, left, top, extra) {
  const d = document.createElement('div');
  d.className = cls;
  d.innerHTML = html;
  d.style.left = left + 'px';
  d.style.top = top + 'px';
  if (extra) Object.assign(d.style, extra);
  wrap.appendChild(d);
  return d;
}
function dot(cx, cy, r, fill, stroke) {
  add('', 'dot', cx - r, cy - r, {
    width: (2 * r) + 'px', height: (2 * r) + 'px', background: fill || 'transparent',
    border: stroke ? '1px solid ' + stroke : 'none', boxSizing: 'border-box'
  });
}

add('RCP', 'lg b', 664, 153);
const rcpKey = document.createElementNS('http://www.w3.org/2000/svg', 'svg');
rcpKey.setAttribute('width', '80');
rcpKey.setAttribute('height', '14');
rcpKey.style.cssText = 'position:absolute;left:663px;top:169px;';
rcpKey.innerHTML =
  '<rect x="0" y="0" width="25" height="14" fill="#f2f2f2"/>' +
  '<line x1="2" y1="7" x2="23" y2="7" stroke="#b0287f" stroke-width="3" stroke-dasharray="7,5"/>' +
  '<rect x="48" y="0" width="25" height="14" fill="#f2f2f2"/>' +
  '<line x1="49" y1="7" x2="72" y2="7" stroke="#3d9e3d" stroke-width="3"/>';
wrap.appendChild(rcpKey);
add('4.5', 'lg', 691, 168);
add('8.5', 'lg', 739, 168);

add('Number of Hotspots', 'lg b', 664, 189);
const ROW_Y = [212, 224, 236, 248.5];
COUNT_LABELS.forEach((lab, k) => {
  add('', 'key', 662, ROW_Y[k] - 6, { width: '14px', height: '12px' });
  add('', 'key', 678, ROW_Y[k] - 6, { width: '14px', height: '12px' });
  dot(669, ROW_Y[k], 3.3, PINK[k]);
  dot(685, ROW_Y[k], 3.3, GREEN[k]);
  add(lab, 'lg', 693, ROW_Y[k] - 8);
});

add('Largest Hotspot (10<sup>5</sup> ha)', 'lg', 664, 268);
const SIZE_Y = [293, 305, 317, 329];
const SIZE_R = [2, 2.8, 3.5, 4.5];
SIZE_LABELS.forEach((lab, k) => {
  add('', 'key', 664, SIZE_Y[k] - 6, { width: '12px', height: '12px' });
  dot(670, SIZE_Y[k], SIZE_R[k], null, '#555');
  add(lab, 'lg', 677, SIZE_Y[k] - 8);
});
</script>
</body>
</html>
